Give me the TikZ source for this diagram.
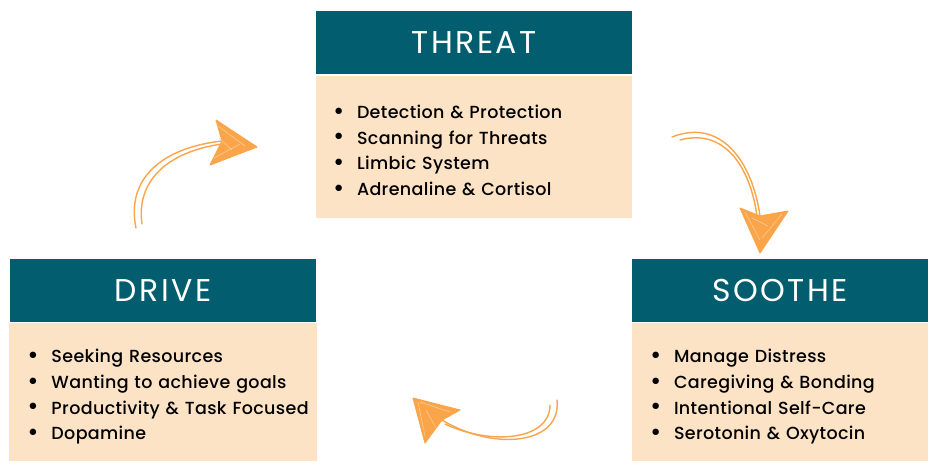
\documentclass[tikz,border=0pt]{standalone}
\usepackage{fontspec}
\setmainfont{Poppins}
\newfontfamily\titlefont{Poppins}[LetterSpace=8]
\newfontfamily\listfont{Poppins Medium}[LetterSpace=2]
\usetikzlibrary{positioning,calc}
\definecolor{headteal}{RGB}{2,94,110}
\definecolor{bodypeach}{RGB}{253,227,198}
\definecolor{sketchorange}{RGB}{251,165,75}
\newcommand{\bul}[1]{\makebox[24bp][l]{\raisebox{-0.1ex}{\scalebox{1.4}{•}}}\mbox{#1}}

\begin{document}
\begin{tikzpicture}[x=1bp,y=-1bp,node distance=2bp,line cap=round,line join=round]
\tikzstyle{head}=[fill=headteal,text=white,minimum height=63bp,inner sep=0pt,font=\titlefont\fontsize{31.5bp}{31.5bp}\selectfont]
\tikzstyle{body}=[fill=bodypeach,align=left,inner xsep=17bp,inner ysep=0pt,font=\listfont\fontsize{17.5bp}{25.8bp}\selectfont]
\tikzstyle{stroke}=[draw=sketchorange,line width=1.4bp]
\tikzstyle{tip}=[fill=sketchorange,draw=sketchorange,line width=1bp]
\tikzstyle{scribble}=[draw=sketchorange!55!white,line width=0.5bp]
\useasboundingbox[fill=white] (0,0) rectangle (928,461);

\node[head,minimum width=316bp] (threat) at (474,42.5) {THREAT};
\node[body,text width=282bp,minimum height=142bp,below=2bp of threat] (threatlist)
  {\rule{0pt}{20bp}\bul{Detection \& Protection}\\ \bul{Scanning for Threats}\\ \bul{Limbic System}\\ \bul{Adrenaline \& Cortisol}};

\node[head,minimum width=306bp] (drive) at (163,290.5) {DRIVE};
\node[body,text width=271bp,inner xsep=18bp,minimum height=140bp,below=1bp of drive] (drivelist)
  {\rule{0pt}{20bp}\bul{Seeking Resources}\\ \bul{Wanting to achieve goals}\\ \bul{Productivity \& Task Focused}\\ \bul{Dopamine}};

\node[head,minimum width=296bp] (soothe) at (780,290.5) {SOOTHE};
\node[body,text width=260bp,inner xsep=18bp,minimum height=140bp,below=1bp of soothe] (soothelist)
  {\rule{0pt}{20bp}\bul{Manage Distress}\\ \bul{Caregiving \& Bonding}\\ \bul{Intentional Self-Care}\\ \bul{Serotonin \& Oxytocin}};

\coordinate (ltail) at (136,228);
\coordinate (lneck) at (222,141);
\coordinate (ltip) at (257,147);
\draw[stroke] (ltail) .. controls (126,180) and (160,148) .. (lneck);
\draw[stroke] ($(ltail)+(6,-4)$) .. controls (136,182) and (166,152) .. ($(lneck)+(0,3)$);
\fill[tip] (ltip) -- (216,120) -- (lneck) -- (210,165) -- cycle;
\draw[scribble] (218,126) -- (245,146) (214,158) -- (240,144) (219,138) -- (232,150);

\coordinate (rtail) at (672,137);
\coordinate (rneck) at (760,216);
\coordinate (rtip) at (760,253);
\draw[stroke] (rtail) .. controls (720,118) and (752,160) .. (rneck);
\draw[stroke] ($(rtail)+(8,3)$) .. controls (724,128) and (750,166) .. ($(rneck)+(-3,0)$);
\fill[tip] (rtip) -- (740,208) -- (rneck) -- (788,211) -- cycle;
\draw[scribble] (745,212) -- (760,240) (782,214) -- (762,238) (752,218) -- (768,226);

\coordinate (btail) at (557,400);
\coordinate (bneck) at (442,420);
\coordinate (btip) at (413,398);
\draw[stroke] (btail) .. controls (562,444) and (495,452) .. (bneck);
\draw[stroke] ($(btail)+(-7,5)$) .. controls (550,440) and (492,446) .. ($(bneck)+(3,4)$);
\fill[tip] (btip) -- (460,410) -- (bneck) -- (425,443) -- cycle;
\draw[scribble] (418,402) -- (425,436) (420,402) -- (450,412) (426,410) -- (436,428);
\end{tikzpicture}
\end{document}
